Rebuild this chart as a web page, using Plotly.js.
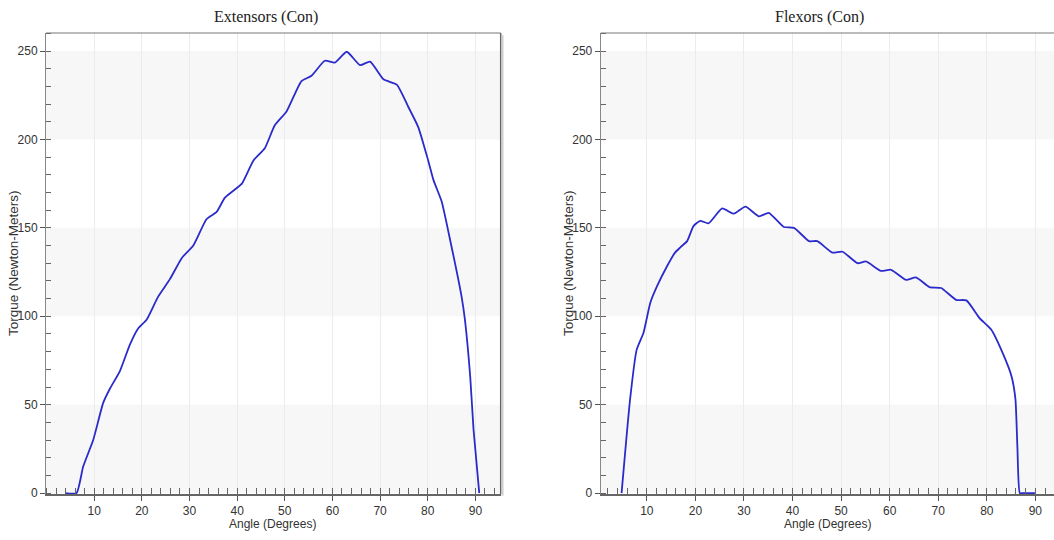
<!DOCTYPE html>
<html>
<head>
<meta charset="utf-8">
<script src="https://cdn.plot.ly/plotly-3.0.1.min.js"></script>
<style>
html,body{margin:0;padding:0;background:#fff;overflow:hidden;}
#chart{width:1080px;height:540px;}
</style>
</head>
<body>
<div id="chart"></div>
<script>
// Extensors (Con)
const extAngle  = [3.9, 6.3, 7.7, 9.8, 11.9, 13.3, 15.4, 17.5, 19.2, 21.0, 23.4, 25.9, 28.4, 30.8, 33.6, 35.7, 37.4, 39.2, 41.0, 43.4, 45.8, 47.9, 50.4, 53.5, 55.6, 58.4, 60.5, 63.0, 65.8, 67.9, 70.7, 73.5, 75.9, 78.0, 80.1, 81.2, 82.9, 84.7, 87.1, 87.8, 88.9, 89.6, 90.8];
const extTorque = [0, 0, 15, 30, 51, 59, 69, 84, 93, 98, 111, 121, 133, 140, 155, 159, 167, 171, 175, 188, 195, 208, 216, 233, 236, 244.5, 243.5, 249.6, 242, 244, 234, 231, 218.5, 207, 188, 177, 165, 143, 111, 98, 66, 36, 0];

// Flexors (Con)
const flexAngle  = [4.8, 6.55, 7.9, 9.3, 10.7, 12.1, 14.1, 15.8, 16.9, 18.3, 19.6, 21.0, 22.7, 25.5, 27.9, 30.3, 33.1, 35.1, 38.2, 40.3, 43.4, 45.1, 48.2, 50.3, 53.4, 55.1, 58.2, 60.3, 63.4, 65.4, 68.2, 70.6, 73.7, 75.8, 78.5, 80.9, 83.3, 85.1, 85.9, 86.3, 86.8, 87.4, 89.9];
const flexTorque = [0, 53, 81, 90.5, 107.5, 117, 128, 136, 139, 142.5, 151, 154, 152.5, 161, 158, 162, 156.5, 158.5, 150.5, 150, 142.5, 142.5, 136, 136.5, 130, 131, 125.7, 126.3, 120.6, 122, 116.5, 116, 109.3, 109, 99, 92.5, 79, 66, 53, 26, 0, 0, 0];

const titles = ["Extensors (Con)", "Flexors (Con)"];
const xTitle = "Angle (Degrees)";
const yTitle = "Torque (Newton-Meters)";
const xTicks = [10, 20, 30, 40, 50, 60, 70, 80, 90];
const yTicks = [0, 50, 100, 150, 200, 250];
const bands = [[0, 50], [100, 150], [200, 250]];

const W = 1080;
const lineStyle = {color: '#2b2bcc', width: 1.8, shape: 'spline', smoothing: 0.5};

const traces = [
  {x: extAngle, y: extTorque, type: 'scatter', mode: 'lines', line: lineStyle, xaxis: 'x', yaxis: 'y', hoverinfo: 'skip'},
  {x: flexAngle, y: flexTorque, type: 'scatter', mode: 'lines', line: lineStyle, xaxis: 'x2', yaxis: 'y2', hoverinfo: 'skip'}
];

const tickFont = {family: 'Liberation Sans, Arial, sans-serif', size: 12, color: '#333'};

function xax(domain, range) {
  return {
    domain: domain, range: range, tickvals: xTicks, ticktext: xTicks.map(String),
    ticks: 'outside', ticklen: 5, tickcolor: '#555', tickfont: tickFont,
    showgrid: true, gridcolor: '#ececec', gridwidth: 1, zeroline: false,
    showline: true, linecolor: '#666', linewidth: 2,
    minor: {dtick: 2, tick0: 0, ticks: 'inside', ticklen: 6, tickcolor: '#666', showgrid: false},
    fixedrange: true, automargin: false
  };
}
function yax(anchor) {
  return {
    anchor: anchor, domain: [0, 1], range: [-0.5, 260.2], tickvals: yTicks, ticktext: yTicks.map(String),
    ticks: 'outside', ticklen: 5, tickcolor: '#555', tickfont: tickFont,
    showgrid: false, zeroline: false,
    showline: true, linecolor: '#888', linewidth: 1,
    minor: {dtick: 10, tick0: 0, ticks: 'inside', ticklen: 5, tickcolor: '#666', showgrid: false},
    fixedrange: true, automargin: false
  };
}

const shapes = [];
[['x', 'y'], ['x2', 'y2']].forEach(([xa, ya]) => {
  bands.forEach(b => shapes.push({type: 'rect', xref: xa + ' domain', yref: ya, x0: 0, x1: 1, y0: b[0], y1: b[1],
    fillcolor: '#f7f7f7', line: {width: 0}, layer: 'below'}));
  shapes.push({type: 'line', xref: xa + ' domain', yref: ya + ' domain', x0: 0, x1: 1, y0: 1, y1: 1, line: {color: '#777', width: 1}});
  shapes.push({type: 'line', xref: xa + ' domain', yref: ya + ' domain', x0: 1, x1: 1, y0: 0, y1: 1, line: {color: '#666', width: 1.5}});
  shapes.push({type: 'line', xref: xa + ' domain', yref: ya + ' domain', x0: 1.004, x1: 1.004, y0: -0.004, y1: 0.995, line: {color: '#cfcfcf', width: 2}});
});

const titleFont = {family: 'Liberation Serif, Times New Roman, serif', size: 16, color: '#222'};
const axFont = {family: 'Liberation Sans, Arial, sans-serif', size: 12, color: '#333'};
const yAxFont = {family: 'Liberation Sans, Arial, sans-serif', size: 13.5, color: '#333'};
const annotations = [
  {text: titles[0], xref: 'paper', yref: 'paper', x: 266 / W, y: (494 - 17) / 461, xanchor: 'center', yanchor: 'middle', showarrow: false, font: titleFont},
  {text: titles[1], xref: 'paper', yref: 'paper', x: 819 / W, y: (494 - 17) / 461, xanchor: 'center', yanchor: 'middle', showarrow: false, font: titleFont},
  {text: xTitle, xref: 'paper', yref: 'paper', x: 272 / W, y: (494 - 524) / 461, xanchor: 'center', yanchor: 'middle', showarrow: false, font: axFont},
  {text: xTitle, xref: 'paper', yref: 'paper', x: 827 / W, y: (494 - 524) / 461, xanchor: 'center', yanchor: 'middle', showarrow: false, font: axFont},
  {text: yTitle, xref: 'paper', yref: 'paper', x: 13 / W, y: (494 - 263) / 461, xanchor: 'center', yanchor: 'middle', textangle: -90, showarrow: false, font: yAxFont},
  {text: yTitle, xref: 'paper', yref: 'paper', x: 568 / W, y: (494 - 263) / 461, xanchor: 'center', yanchor: 'middle', textangle: -90, showarrow: false, font: yAxFont}
];

const layout = {
  width: W, height: 540,
  margin: {l: 0, r: 0, t: 33, b: 46, pad: 0},
  paper_bgcolor: '#ffffff', plot_bgcolor: '#ffffff',
  showlegend: false,
  xaxis: xax([46 / W, 500.7 / W], [-0.1, 95.3]),
  yaxis: yax('x'),
  xaxis2: Object.assign(xax([600.7 / W, 1065 / W], [0.5, 96.1]), {anchor: 'y2'}),
  yaxis2: yax('x2'),
  shapes: shapes,
  annotations: annotations
};
layout.xaxis.anchor = 'y';

Plotly.newPlot('chart', traces, layout, {staticPlot: true, displayModeBar: false});
</script>
</body>
</html>
